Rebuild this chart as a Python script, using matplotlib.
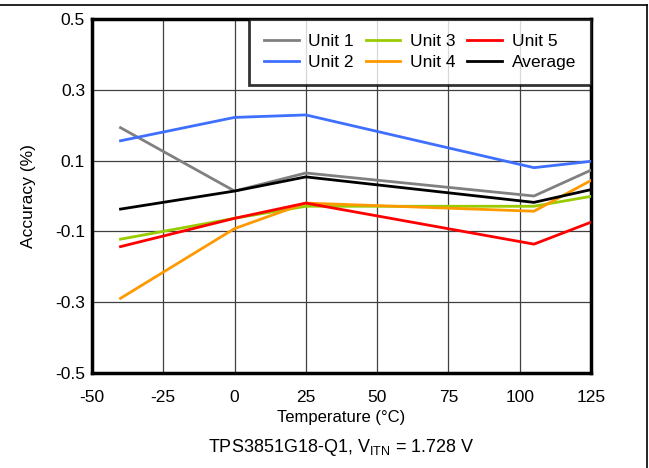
import matplotlib
matplotlib.use('Agg')
import matplotlib.pyplot as plt
from matplotlib.lines import Line2D

plt.rcParams['font.family'] = ['Liberation Sans', 'DejaVu Sans']
plt.rcParams['mathtext.fontset'] = 'custom'
plt.rcParams['mathtext.rm'] = 'Liberation Sans'
plt.rcParams['mathtext.it'] = 'Liberation Sans'

# Data
temps = [-40, 0, 25, 105, 125]
unit1 = [0.193, 0.014, 0.065, 0.000, 0.073]
unit2 = [0.156, 0.222, 0.229, 0.080, 0.098]
unit3 = [-0.122, -0.063, -0.029, -0.029, -0.001]
unit4 = [-0.289, -0.092, -0.020, -0.043, 0.044]
unit5 = [-0.143, -0.063, -0.020, -0.136, -0.074]
average = [-0.037, 0.014, 0.054, -0.018, 0.018]

names = ['Unit 1', 'Unit 2', 'Unit 3', 'Unit 4', 'Unit 5', 'Average']
colours = ['#808080', '#3f6fff', '#99cc00', '#ff9900', '#ff0000', '#000000']
series = [unit1, unit2, unit3, unit4, unit5, average]

xticks = [-50, -25, 0, 25, 50, 75, 100, 125]
yticks = [-0.5, -0.3, -0.1, 0.1, 0.3, 0.5]

figW, figH = 6.49, 4.68
fig = plt.figure(figsize=(figW, figH), dpi=100)

# axes box in pixels: left 92, right 591, top 19, bottom 373
ax = fig.add_axes([92/649, 1 - 373/468, (591-92)/649, (373-19)/468])

for name, col, vals in zip(names, colours, series):
    ax.plot(temps, vals, color=col, linewidth=2, label=name, zorder=3)

ax.set_xlim(-50, 125)
ax.set_ylim(-0.5, 0.5)
ax.set_xticks(xticks)
ax.set_yticks(yticks)
ax.set_xticklabels([str(t) for t in xticks])
ax.set_yticklabels([f'{t:g}' for t in yticks])
ax.grid(True, color='#404040', linewidth=0.9)
ax.set_axisbelow(True)
ax.tick_params(length=0, labelsize=12.5)
ax.tick_params(axis='x', pad=12)
ax.tick_params(axis='y', pad=5)
for sp in ax.spines.values():
    sp.set_linewidth(2.5)
    sp.set_color('black')

ax.set_xlabel('Temperature (°C)', fontsize=12, labelpad=4)
ax.set_ylabel('Accuracy (%)', fontsize=12.5, labelpad=14)

# legend, three columns, column-major order
handles = [Line2D([], [], color=c, linewidth=2) for c in colours]
leg = ax.legend(handles, names, ncol=3, loc='upper right',
                bbox_to_anchor=(1.0, 1.0), frameon=True, fancybox=False,
                fontsize=12.5, handlelength=2.0, handletextpad=0.57,
                columnspacing=0.66, labelspacing=0.33, borderpad=0.86,
                borderaxespad=0)
leg.get_frame().set_edgecolor('black')
leg.get_frame().set_linewidth(2)
leg.set_zorder(5)

fig.text(0.5*(92+591)/649, 1 - 447/468, r'TPS3851G18-Q1, V$_{\mathrm{ITN}}$ = 1.728 V',
         ha='center', va='center', fontsize=13)

# outer border on top and right
fig.add_artist(Line2D([0, 647/649], [1 - 4.5/468, 1 - 4.5/468], color='black', linewidth=1.2,
                      transform=fig.transFigure))
fig.add_artist(Line2D([647/649, 647/649], [0, 1 - 4.5/468], color='black', linewidth=1.2,
                      transform=fig.transFigure))

plt.savefig('out.png', dpi=100)
